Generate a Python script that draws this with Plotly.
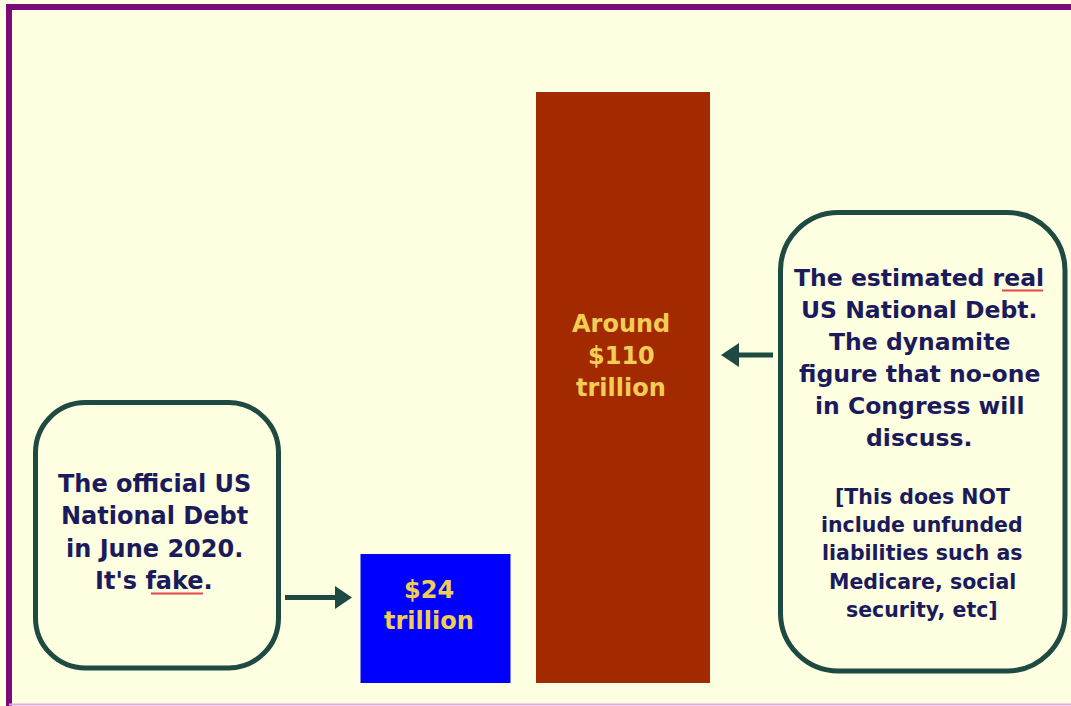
import plotly.graph_objects as go

# ---- data ----
categories = ["Official US National Debt (June 2020)", "Estimated real US National Debt"]
debt_trillions = [24, 110]
bar_colors = ["#0000FF", "#A32A00"]
bar_label_lines = [["$24", "trillion"], ["Around", "$110", "trillion"]]
left_note_lines = ["The official US", "National Debt", "in June 2020.", "It's fake."]
right_note_lines = ["The estimated real", "US National Debt.", "The dynamite",
                    "figure that no-one", "in Congress will", "discuss."]
right_small_lines = ["[This does NOT", "include unfunded", "liabilities such as",
                     "Medicare, social", "security, etc]"]

W, H = 1071, 706
CREAM = "#FEFEE0"
NAVY = "#1B1B5C"
GOLD = "#F2CD55"
TEAL = "#1E4A42"
PURPLE = "#7A0A7A"
FONT = "DejaVu Sans"


def X(px):
    return px / W


def Y(py):
    return 1 - py / H


# axis scaling: baseline at y=683px, tallest bar top at 92px
base_px, top_px = 683, 92
ppu = (base_px - top_px) / max(debt_trillions)
y_range = [-(H - base_px) / ppu, base_px / ppu]
# x: category 0 centred at 435.5px, 187.5px per category
x0_px, xs = 435.5, 187.5
x_range = [-x0_px / xs, (W - x0_px) / xs]

fig = go.Figure(go.Bar(
    x=categories, y=debt_trillions,
    marker=dict(color=bar_colors, line=dict(width=0)),
    width=[150 / xs, 174 / xs],
    hoverinfo="x+y",
))

annotations = []


def add_lines(lines, cx, y_start, step, size, color):
    for i, t in enumerate(lines):
        annotations.append(dict(
            text=f"<b>{t}</b>", x=X(cx), y=Y(y_start + i * step),
            xref="paper", yref="paper", xanchor="center", yanchor="middle",
            showarrow=False, font=dict(family=FONT, size=size, color=color),
        ))


add_lines(left_note_lines, 154, 484, 32.3, 24, NAVY)
add_lines(right_note_lines, 919, 277.5, 32, 23.5, NAVY)
add_lines(right_small_lines, 922, 497, 28.2, 20.5, NAVY)
add_lines(bar_label_lines[0], 429, 590, 31, 24, GOLD)
add_lines(bar_label_lines[1], 621, 324, 32, 24, GOLD)


def rounded_rect(x0, y0, x1, y1, r):
    k = 0.5523 * r
    pts = [
        f"M {X(x0 + r)},{Y(y0)}",
        f"L {X(x1 - r)},{Y(y0)}",
        f"C {X(x1 - r + k)},{Y(y0)} {X(x1)},{Y(y0 + r - k)} {X(x1)},{Y(y0 + r)}",
        f"L {X(x1)},{Y(y1 - r)}",
        f"C {X(x1)},{Y(y1 - r + k)} {X(x1 - r + k)},{Y(y1)} {X(x1 - r)},{Y(y1)}",
        f"L {X(x0 + r)},{Y(y1)}",
        f"C {X(x0 + r - k)},{Y(y1)} {X(x0)},{Y(y1 - r + k)} {X(x0)},{Y(y1 - r)}",
        f"L {X(x0)},{Y(y0 + r)}",
        f"C {X(x0)},{Y(y0 + r - k)} {X(x0 + r - k)},{Y(y0)} {X(x0 + r)},{Y(y0)}",
        "Z",
    ]
    return " ".join(pts)


def tri(tip_x, tip_y, base_x, half):
    return (f"M {X(tip_x)},{Y(tip_y)} L {X(base_x)},{Y(tip_y - half)} "
            f"L {X(base_x)},{Y(tip_y + half)} Z")


shapes = [
    # frame
    dict(type="line", xref="paper", yref="paper", x0=X(6), x1=X(W + 5), y0=Y(7), y1=Y(7),
         line=dict(color=PURPLE, width=6)),
    dict(type="line", xref="paper", yref="paper", x0=X(9), x1=X(9), y0=Y(4), y1=Y(H + 5),
         line=dict(color=PURPLE, width=6)),
    dict(type="line", xref="paper", yref="paper", x0=X(9), x1=X(W + 5), y0=Y(704.5), y1=Y(704.5),
         line=dict(color="#E2A8E2", width=2)),
    # note boxes
    dict(type="path", xref="paper", yref="paper", path=rounded_rect(35.5, 402.5, 278.5, 668, 50),
         line=dict(color=TEAL, width=5), fillcolor=CREAM),
    dict(type="path", xref="paper", yref="paper", path=rounded_rect(780.5, 212.5, 1065, 671, 58),
         line=dict(color=TEAL, width=5), fillcolor=CREAM),
    # arrows
    dict(type="line", xref="paper", yref="paper", x0=X(285), x1=X(338), y0=Y(597.5), y1=Y(597.5),
         line=dict(color=TEAL, width=5)),
    dict(type="path", xref="paper", yref="paper", path=tri(352, 597.5, 335, 11.5),
         line=dict(width=0), fillcolor=TEAL),
    dict(type="line", xref="paper", yref="paper", x0=X(736), x1=X(773), y0=Y(355), y1=Y(355),
         line=dict(color=TEAL, width=5)),
    dict(type="path", xref="paper", yref="paper", path=tri(721, 355, 739, 12),
         line=dict(width=0), fillcolor=TEAL),
    # red spell-check underlines
    dict(type="line", xref="paper", yref="paper", x0=X(151), x1=X(203), y0=Y(593.5), y1=Y(593.5),
         line=dict(color="#E04848", width=2)),
    dict(type="line", xref="paper", yref="paper", x0=X(1002), x1=X(1043), y0=Y(290.5), y1=Y(290.5),
         line=dict(color="#E04848", width=2)),
]

fig.update_layout(
    width=W, height=H, autosize=False,
    margin=dict(l=0, r=0, t=0, b=0, pad=0),
    paper_bgcolor=CREAM, plot_bgcolor=CREAM,
    showlegend=False,
    xaxis=dict(visible=False, range=x_range, fixedrange=True),
    yaxis=dict(visible=False, range=y_range, fixedrange=True),
    annotations=annotations,
    shapes=shapes,
)

fig.write_html("out.html")
